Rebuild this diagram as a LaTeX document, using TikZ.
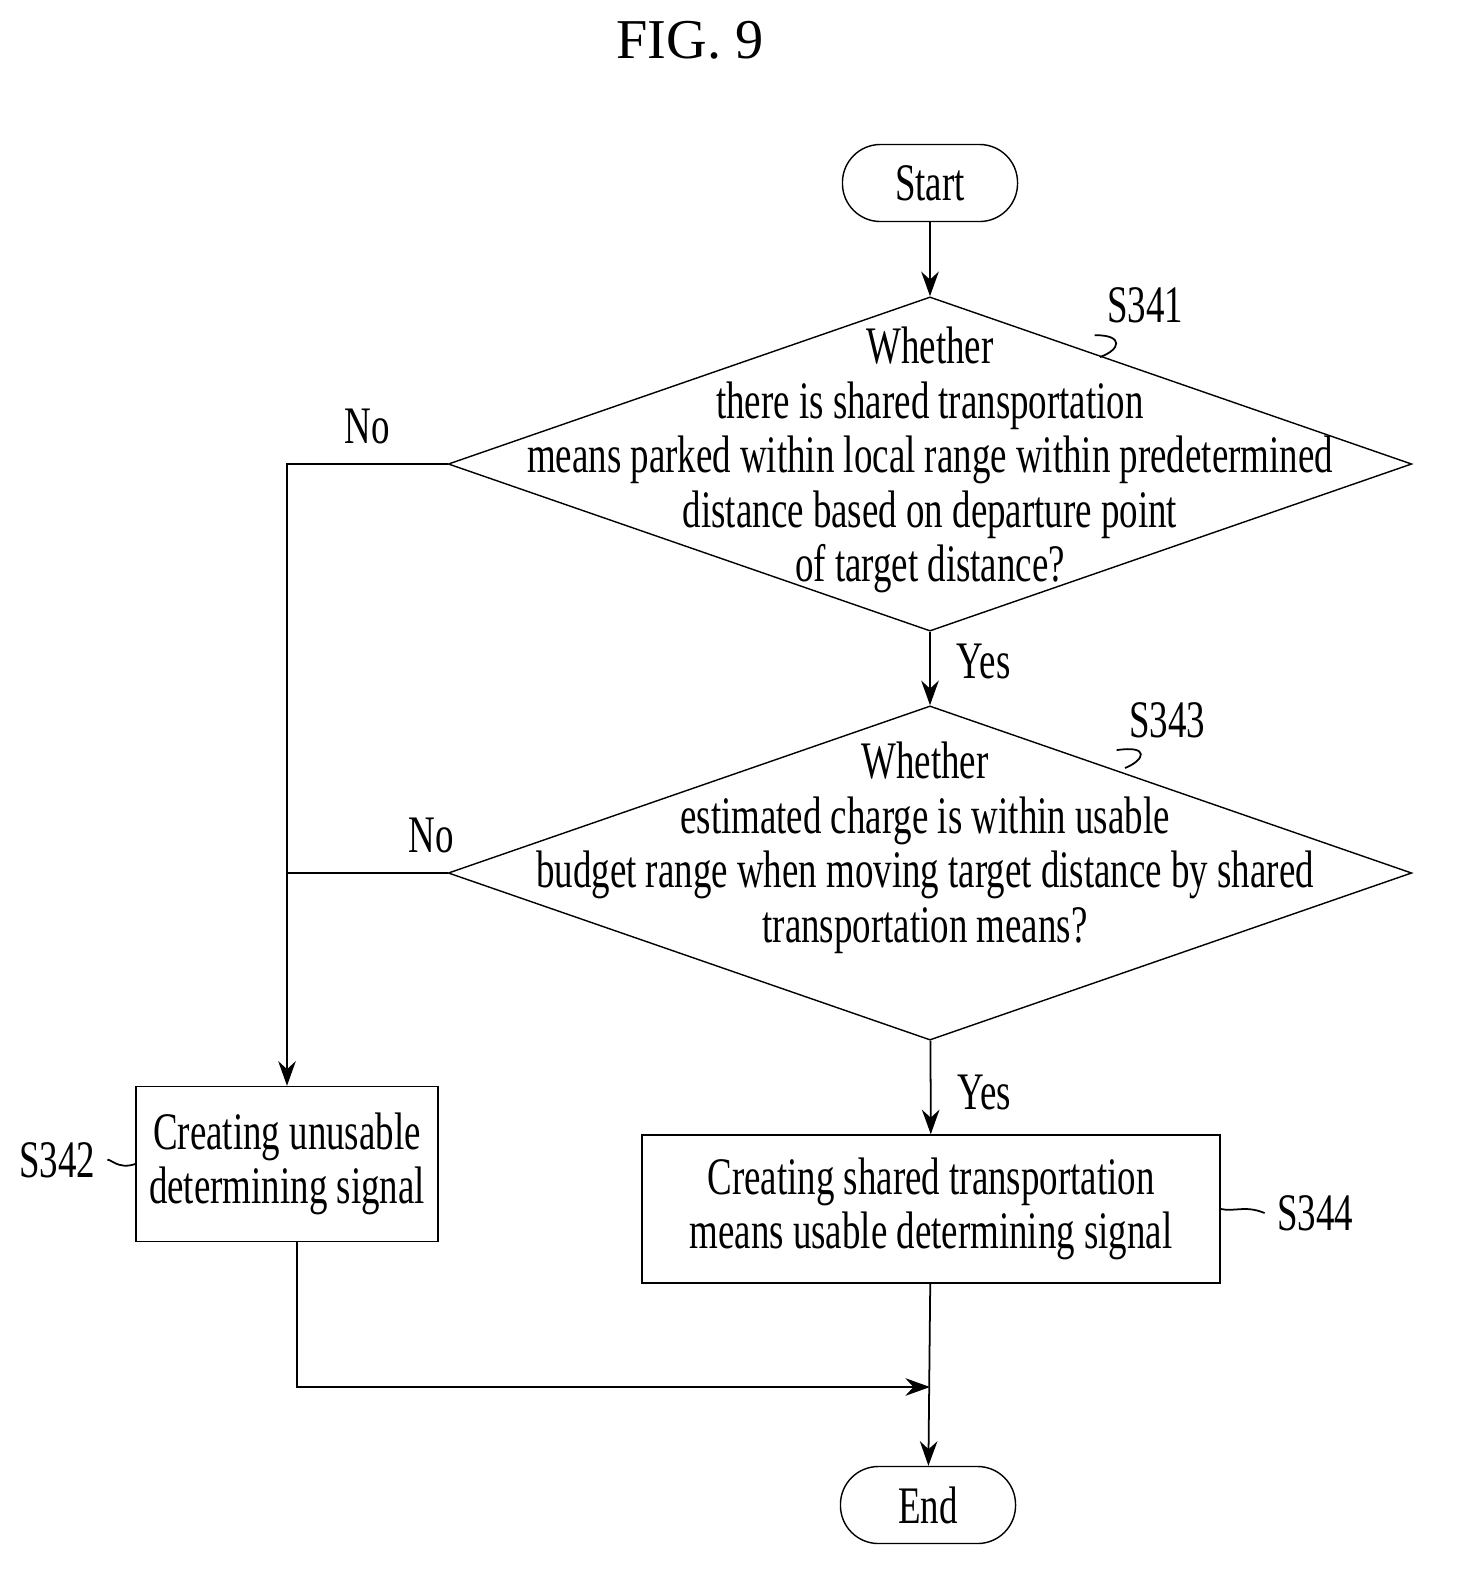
\documentclass[tikz,border=0pt]{standalone}
\usepackage{fontspec}
\setmainfont[FakeStretch=0.7]{Liberation Serif}
\newfontfamily\titlefont{Liberation Serif}
\usetikzlibrary{arrows.meta,positioning,shapes.geometric}

\begin{document}
\begin{tikzpicture}[x=0.01cm,y=-0.01cm,
    line/.style={draw, line width=0.5pt},
    arr/.style={line, -{Stealth[length=7pt,width=5pt]}},
    term/.style={draw, rounded corners=0.38cm, minimum width=1.75cm, minimum height=0.77cm},
    dia/.style={draw, diamond, inner sep=0pt, minimum width=9.63cm, minimum height=3.34cm},
    box/.style={draw, inner sep=0pt, align=center},
    txt/.style={font=\fontsize{15}{15.5}\selectfont, align=center},
    tag/.style={font=\fontsize{15}{16}\selectfont}]
    \useasboundingbox (0,0) rectangle (1460,1596);

    % Title
    \node[font=\titlefont\fontsize{16}{18}\selectfont] (title) at (690,40) {FIG. 9};

    % Terminals
    \node[term, txt] (start) at (930,183) {Start};
    \node[term, txt] (end) at (928,1505) {End};

    % Decisions
    \node[dia] (d341) at (930,464) {};
    \node[txt] at (930,460) {Whether\\there is shared transportation\\means parked within local range within predetermined\\distance based on departure point\\of target distance?};
    \node[dia] (d343) at (930,873) {};
    \node[txt] at (925,848) {Whether\\estimated charge is within usable\\budget range when moving target distance by shared\\transportation means?};

    % Processes
    \node[box, minimum width=3.02cm, minimum height=1.55cm, txt] (b342) at (287,1164) {Creating unusable\\determining signal};
    \node[box, minimum width=5.78cm, minimum height=1.48cm, txt] (b344) at (931,1209) {Creating shared transportation\\means usable determining signal};

    % Step tags
    \node[tag] (t341) at (1145,305) {S341};
    \draw[line] (1100,357) .. controls (1120,350) and (1125,335) .. (t341.south west);
    \node[tag] (t343) at (1167,720) {S343};
    \draw[line] (1125,768) .. controls (1145,760) and (1150,745) .. (t343.south west);
    \node[tag] (t342) at (57,1160) {S342};
    \draw[line] (t342.east) .. controls (110,1158) and (118,1170) .. (b342.west);
    \node[tag] (t344) at (1315,1213) {S344};
    \draw[line] (b344.east) .. controls (1235,1212) and (1245,1205) .. (t344.west);

    % Connectors
    \draw[arr] (start) -- (d341);
    \draw[arr] (d341) -- node[txt, right=4pt, pos=0.4] {Yes} (d343);
    \draw[arr] (d343) -- node[txt, right=4pt, pos=0.55] {Yes} (b344);
    \draw[arr] (d341.west) -| node[txt, pos=0.25, above=2pt] {No} (b342.north);
    \coordinate (m343) at (b342.north |- d343.west);
    \draw[line] (d343.west) -- node[txt, pos=0.1, above=2pt] {No} (m343);
    \coordinate (join) at (930,1387);
    \draw[arr] ([xshift=0.1cm]b342.south) |- (join);
    \draw[arr] (b344) -- (end);
\end{tikzpicture}
\end{document}
